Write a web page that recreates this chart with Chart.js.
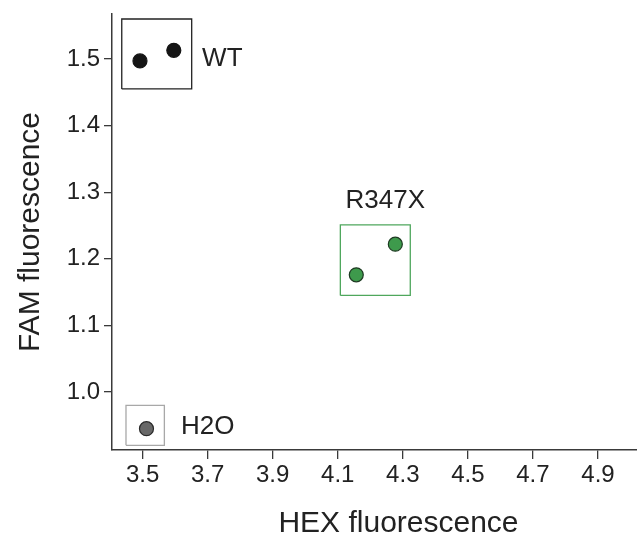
<!DOCTYPE html>
<html>
<head>
<meta charset="utf-8">
<script src="https://cdn.jsdelivr.net/npm/chart.js@4"></script>
<style>
  html, body { margin: 0; padding: 0; background: #fff; }
  #wrap { width: 637px; height: 538px; }
</style>
</head>
<body>
<div id="wrap"><canvas id="chart" width="637" height="538"></canvas></div>
<script>
// sample points (HEX, FAM)
const wtPoints = [{x: 3.492, y: 1.497}, {x: 3.596, y: 1.513}];
const mutPoints = [{x: 4.157, y: 1.176}, {x: 4.277, y: 1.222}];
const waterPoints = [{x: 3.512, y: 0.945}];

// cluster boxes as [xMin, xMax, yMin, yMax]
const wtBox = [3.436, 3.651, 1.455, 1.560];
const mutBox = [4.108, 4.323, 1.145, 1.251];
const waterBox = [3.449, 3.567, 0.920, 0.980];

// cluster labels
const groupNames = ['WT', 'R347X', 'H2O'];
const labelPos = [{x: 3.683, y: 1.5}, {x: 4.246, y: 1.2875}, {x: 3.618, y: 0.948}];

const xTicks = [3.5, 3.7, 3.9, 4.1, 4.3, 4.5, 4.7, 4.9];
const yTicks = [1.0, 1.1, 1.2, 1.3, 1.4, 1.5];

const xTitle = 'HEX fluorescence';
const yTitle = 'FAM fluorescence';

const FONT = "'Liberation Sans', Arial, sans-serif";

function boxPath(b) {
  return [
    {x: b[0], y: b[2]}, {x: b[1], y: b[2]}, {x: b[1], y: b[3]},
    {x: b[0], y: b[3]}, {x: b[0], y: b[2]}
  ];
}

function boxSet(b, color) {
  return {
    type: 'line',
    data: boxPath(b),
    borderColor: color,
    borderWidth: 1.3,
    pointRadius: 0,
    fill: false,
    tension: 0
  };
}

function dotSet(pts, fill, edge) {
  return {
    type: 'scatter',
    data: pts,
    backgroundColor: fill,
    borderColor: edge,
    borderWidth: 1.2,
    pointRadius: 7,
    pointHoverRadius: 7
  };
}

// text labels next to each cluster, plus the x title (sits right of centre in the original)
const groupLabels = {
  id: 'groupLabels',
  afterDatasetsDraw(chart) {
    const {ctx, scales} = chart;
    ctx.save();
    ctx.font = '26px ' + FONT;
    ctx.fillStyle = '#222';
    ctx.textBaseline = 'middle';
    groupNames.forEach((name, i) => {
      const px = scales.x.getPixelForValue(labelPos[i].x);
      const py = scales.y.getPixelForValue(labelPos[i].y);
      ctx.textAlign = i === 1 ? 'center' : 'left';
      ctx.fillText(name, px, py);
    });
    ctx.font = '30px ' + FONT;
    ctx.textAlign = 'center';
    ctx.textBaseline = 'alphabetic';
    ctx.fillText(xTitle, scales.x.left + (scales.x.right - scales.x.left) / 2 + 24, chart.height - 6);
    ctx.restore();
  }
};

new Chart(document.getElementById('chart'), {
  data: {
    datasets: [
      boxSet(wtBox, '#222222'),
      boxSet(mutBox, '#4fa75d'),
      boxSet(waterBox, '#a8a8a8'),
      dotSet(wtPoints, '#151515', '#151515'),
      dotSet(mutPoints, '#3e9a4c', '#1e3a22'),
      dotSet(waterPoints, '#686868', '#2a2a2a')
    ]
  },
  options: {
    responsive: false,
    animation: false,
    layout: { autoPadding: false, padding: { top: 14, right: 0, left: 0, bottom: 0 } },
    plugins: {
      legend: { display: false },
      tooltip: { enabled: false }
    },
    scales: {
      x: {
        type: 'linear',
        min: 3.406,
        max: 5.02,
        afterBuildTicks: s => { s.ticks = xTicks.map(v => ({value: v})); },
        afterFit: s => { s.height = 88; s.paddingLeft = 0; s.paddingRight = 0; },
        grid: { drawOnChartArea: false, drawTicks: true, tickLength: 9, color: '#3a3a3a', lineWidth: 1.3 },
        border: { color: '#3a3a3a', width: 1.5 },
        ticks: {
          color: '#222',
          font: { family: FONT, size: 24 },
          padding: 2,
          maxRotation: 0,
          callback: v => v.toFixed(1)
        }
      },
      y: {
        type: 'linear',
        min: 0.913,
        max: 1.5675,
        afterBuildTicks: s => { s.ticks = yTicks.map(v => ({value: v})); },
        afterFit: s => { s.width = 112; s.paddingTop = 0; s.paddingBottom = 0; },
        grid: { drawOnChartArea: false, drawTicks: true, tickLength: 8, color: '#3a3a3a', lineWidth: 1.3 },
        border: { color: '#3a3a3a', width: 1.5 },
        ticks: {
          color: '#222',
          font: { family: FONT, size: 24 },
          padding: 4,
          callback: v => v.toFixed(1)
        },
        title: {
          display: true,
          text: yTitle,
          color: '#222',
          font: { family: FONT, size: 30 },
          padding: { top: 13, bottom: 0 }
        }
      }
    }
  },
  plugins: [groupLabels]
});
</script>
</body>
</html>
